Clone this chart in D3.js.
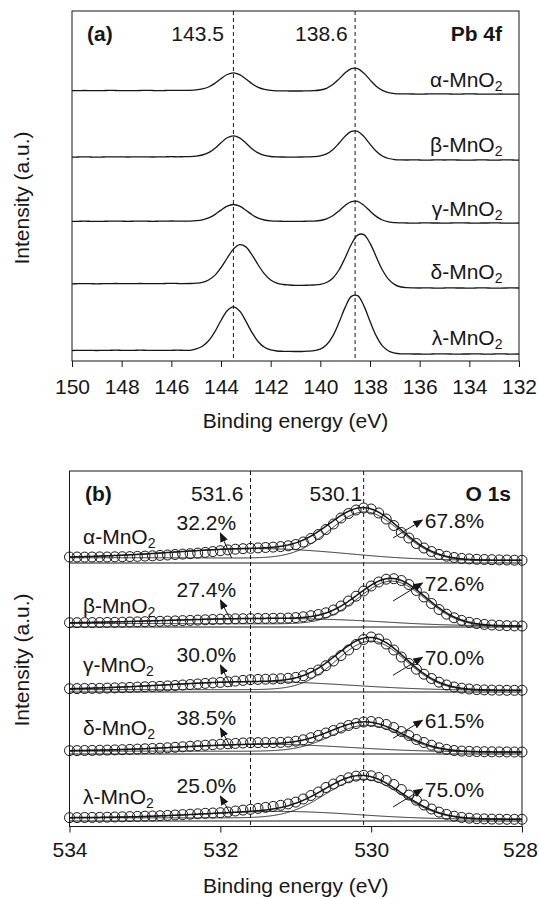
<!DOCTYPE html>
<html>
<head>
<meta charset="utf-8">
<script src="https://cdn.jsdelivr.net/npm/d3@7"></script>
<style>
  body { margin: 0; background: #fff; }
  svg { display: block; }
  text { font-family: "Liberation Sans", Arial, sans-serif; fill: #161616; }
</style>
</head>
<body>
<svg id="chart" width="539" height="899"></svg>
<script>
// ---------------- Pb 4f spectra (panel a) ----------------
// intensities on a 0.25 eV grid from 150 eV down to 132 eV
const pbSamples = ["α", "β", "γ", "δ", "λ"];
const pbAlpha = [3.3,3.4,3.5,3.4,3.3,3.4,3.6,3.5,3.4,3.3,3.4,3.5,3.6,3.5,3.4,3.5,3.6,3.7,3.6,3.7,
  4.1,5.1,7.0,10.6,15.3,19.5,21.2,19.4,15.1,10.3,6.7,4.6,3.6,3.2,
  3.1,3.0,3.0,3.0,3.1,3.3,4.0,5.7,9.4,14.9,21.2,25.4,25.4,20.9,14.1,7.8,3.6,1.3,0.4,0.1,
  0.1,0,-0.1,0,0.1,0.2,0.1,0,-0.1,0,0.1,0,-0.1,-0.2,-0.1,0,-0.1,-0.2,-0.1];
const pbBeta = [2.9,3.0,3.1,3.0,2.9,3.0,3.1,3.2,3.1,3.0,3.1,3.2,3.1,3.0,3.1,3.2,3.3,3.2,3.3,3.4,
  3.9,5.0,7.4,11.6,17.2,22.2,24.2,22.1,17.0,11.3,7.1,4.6,3.5,3.1,
  3.0,2.9,2.9,3.0,3.1,3.3,4.1,6.1,10.3,16.7,23.7,28.6,28.7,23.6,15.9,8.8,4.0,1.5,0.4,0.1,
  0,0.1,0,-0.1,0,0.1,0,0.1,0,-0.1,-0.1,0,0.1,0,-0.1,0,0.1,0,-0.1];
const pbGamma = [1.6,1.7,1.8,1.7,1.6,1.7,1.8,1.9,1.8,1.7,1.8,1.9,1.8,1.7,1.8,1.9,2.0,1.9,1.8,1.9,
  2.3,3.2,5.1,8.4,12.9,16.9,18.5,16.9,12.8,8.3,4.9,3.0,2.1,1.8,
  1.7,1.6,1.6,1.7,1.8,1.9,2.5,4.1,7.3,12.1,17.6,21.4,21.6,17.8,12.0,6.6,3.0,1.05,0.3,0.1,
  0,-0.1,0,0.1,0,0,-0.1,0,0.1,0.1,0,-0.1,0,0,0.1,0,-0.1,-0.1,0];
const pbDelta = [4.2,4.3,4.4,4.3,4.2,4.3,4.4,4.5,4.4,4.3,4.4,4.5,4.4,4.3,4.4,4.5,4.6,4.5,
  4.4,4.5,4.8,5.6,8.0,12.6,20.3,30.0,38.9,43.3,41.1,33.1,23.0,14.1,8.0,4.8,3.5,3.0,2.7,2.6,
  2.75,3.0,3.6,5.5,9.8,18.0,30.2,43.7,52.9,53.4,44.8,31.2,18.0,8.6,3.4,1.0,0.3,0.1,
  0,0.1,0,-0.1,0,0.1,0,0,-0.1,0,0.1,0,-0.1,-0.1,0,0.1,0];
const pbLambda = [3.5,3.6,3.7,3.6,3.5,3.6,3.7,3.8,3.7,3.6,3.7,3.8,3.7,3.6,3.7,3.6,3.7,3.8,3.7,3.6,
  5.1,7.7,13.2,22.2,33.5,43.3,47.1,43.0,32.9,21.4,12.3,6.7,4.1,3.0,
  2.7,2.6,2.5,2.5,2.8,3.3,4.9,9.2,17.9,31.4,46.6,57.6,58.4,48.4,32.7,18.1,8.1,3.0,0.9,0.2,
  0.1,0,0,-0.1,0,0.1,0.1,0,-0.1,0,0,0.1,0,-0.1,0,0.1,0,-0.1,0];
const pbSeries = [pbAlpha, pbBeta, pbGamma, pbDelta, pbLambda];
const pbOffsets = [260, 194, 131, 66, 0];
const pbTicks = [150, 148, 146, 144, 142, 140, 138, 136, 134, 132];
const pbRefLines = [143.5, 138.6];
const pbEnergies = d3.range(pbAlpha.length).map(i => 150 - 0.25 * i);

// ---------------- O 1s spectra (panel b) ----------------
// measured points on a 0.1 eV grid from 534 eV down to 528 eV
const oSamples = ["α", "β", "γ", "δ", "λ"];
const oAlpha = [6.0,6.0,5.9,6.0,6.1,6.0,6.2,6.3,6.4,6.6,6.9,
  7.2,7.6,8.0,8.5,8.9,9.3,9.9,10.6,11.4,12.3,
  13.1,13.8,14.3,14.7,15.1,15.5,15.9,16.4,17.2,18.5,
  21.0,24.5,28.5,33.5,39.0,45.0,49.5,53.0,55.0,54.0,
  50.0,44.0,37.5,30.5,25.0,19.5,15.0,11.5,8.6,6.8,
  5.5,4.6,4.1,3.7,3.5,3.3,3.1,3.0,2.8,2.7];
const oBeta = [4.3,4.3,4.4,4.4,4.5,4.6,4.7,4.8,5.0,5.1,5.3,
  5.5,5.7,5.9,6.1,6.4,6.6,6.9,7.2,7.5,7.8,
  8.0,8.2,8.3,8.4,8.5,8.6,8.7,8.8,9.0,9.4,
  10.2,11.3,12.5,14.2,17.0,21.0,26.0,30.8,36.0,41.0,
  45.0,47.8,48.3,46.5,42.5,36.5,30.0,23.5,17.5,12.8,
  9.2,6.6,4.7,3.5,2.6,2.0,1.6,1.3,1.1,1.0];
const oGamma = [3.3,3.4,3.5,3.6,3.7,3.9,4.1,4.3,4.6,4.9,5.2,
  5.5,5.7,6.1,6.5,7.0,7.5,8.0,8.6,9.1,9.6,
  10.2,10.9,11.6,12.3,12.6,12.8,13.0,13.3,13.7,14.6,
  16.3,18.8,22.0,26.3,31.0,36.5,42.0,47.5,52.5,55.0,
  53.0,48.0,42.0,35.0,28.5,22.8,17.8,13.5,9.8,7.0,
  5.0,3.8,3.0,2.4,2.1,1.9,1.8,1.7,1.7,1.7];
const oDelta = [3.3,3.4,3.5,3.6,3.8,3.9,4.1,4.3,4.6,4.9,5.2,
  5.5,5.8,6.2,6.7,7.2,7.8,8.3,8.8,9.3,9.8,
  10.2,10.6,11.0,11.3,11.4,11.4,11.4,11.6,12.0,12.8,
  14.2,16.3,18.6,21.0,23.5,26.0,28.5,30.5,32.0,32.5,
  31.5,29.5,26.5,22.5,18.5,14.5,11.5,8.8,6.2,4.6,
  3.5,2.9,2.6,2.4,2.3,2.2,2.1,2.1,2.0,2.0];
const oLambda = [3.3,3.4,3.5,3.6,3.7,3.8,4.0,4.2,4.4,4.6,4.8,
  5.0,5.3,5.6,6.0,6.4,6.8,7.2,7.7,8.0,8.3,
  9.0,10.0,10.9,11.7,12.6,13.6,14.6,15.7,17.1,18.9,
  22.0,25.5,29.0,33.5,37.0,40.5,43.2,44.9,45.7,45.2,
  43.5,40.5,36.5,31.5,26.0,20.8,16.0,12.0,8.9,6.6,
  4.8,3.6,2.8,2.3,2.1,1.9,1.8,1.7,1.7,1.7];
const oSeries = [oAlpha, oBeta, oGamma, oDelta, oLambda];
const oEnergies = d3.range(oAlpha.length).map(i => +(534 - 0.1 * i).toFixed(1));

// fitted components: lattice oxygen (main) and surface oxygen (high binding energy)
const oPctHigh = [32.2, 27.4, 30.0, 38.5, 25.0];
const oPctMain = [67.8, 72.6, 70.0, 61.5, 75.0];
const oMainCenter = [530.08, 529.72, 530.0, 530.05, 530.1];
const oMainHeight = [47.5, 44, 49, 26.5, 39.5];
const oMainFwhm = [1.1, 1.05, 1.08, 1.1, 1.2];
const oHighCenter = [531.5, 531.3, 531.5, 531.4, 531.2];
const oHighFwhm = [2.6, 3.2, 2.8, 2.6, 2.4];
const oBgHighSide = [5.3, 3.5, 2.4, 2.9, 3.2];
const oBgLowSide = [2.6, 0.7, 1.55, 1.9, 1.7];
const oOffsets = [258, 194, 129, 67, 0];
const oTicks = [534, 532, 530, 528];
const oRefLines = [531.6, 530.1];

// label placement above each stacked trace (px)
const pbNameLift = [7, 8, 7, 9, 9];
const oNameLift = [19, 14.5, 20, 19, 17.5];
const oLeftPctLift = [33, 30, 30, 29, 28];
const oRightPctLift = [35, 36, 26.7, 25.7, 24];

// ---------------- drawing ----------------
const ink = "#161616";
const svg = d3.select("#chart");

svg.append("defs").append("marker")
  .attr("id", "arrow").attr("markerUnits", "userSpaceOnUse")
  .attr("markerWidth", 10).attr("markerHeight", 10)
  .attr("viewBox", "0 0 10 8").attr("refX", 9).attr("refY", 4)
  .attr("orient", "auto")
  .append("path").attr("d", "M0,0 L10,4 L0,8 Z").attr("fill", ink);

function sampleLabel(g, x, y, greek, anchor) {
  const t = g.append("text").attr("x", x).attr("y", y)
    .attr("text-anchor", anchor).style("font-size", "21px");
  t.append("tspan").text(greek + "-MnO");
  t.append("tspan").attr("dy", 4).style("font-size", "14px").text("2");
}

function yTitle(x, y) {
  svg.append("text").attr("transform", `translate(${x},${y}) rotate(-90)`)
    .attr("text-anchor", "middle").style("font-size", "21px").text("Intensity (a.u.)");
}

// ----- panel (a) -----
const A = { left: 72, right: 519, top: 11, bottom: 361 };
const xA = d3.scaleLinear().domain([150, 132]).range([A.left, A.right]);
const yA = d3.scaleLinear().domain([-7, 343]).range([A.bottom, A.top]);
const gA = svg.append("g");

pbRefLines.forEach(e => {
  gA.append("line").attr("x1", xA(e)).attr("x2", xA(e))
    .attr("y1", A.top).attr("y2", A.bottom)
    .attr("stroke", ink).attr("stroke-width", 1).attr("stroke-dasharray", "4,3");
});

const lineA = d3.line().x(d => xA(d[0])).y(d => yA(d[1])).curve(d3.curveCatmullRom.alpha(0.5));
pbSeries.forEach((vals, k) => {
  const pts = vals.map((v, i) => [pbEnergies[i], v + pbOffsets[k]]);
  gA.append("path").attr("d", lineA(pts)).attr("fill", "none")
    .attr("stroke", ink).attr("stroke-width", 1.3);
  sampleLabel(gA, 502.5, yA(pbOffsets[k] + pbNameLift[k]), pbSamples[k], "end");
});

gA.append("rect").attr("x", A.left).attr("y", A.top)
  .attr("width", A.right - A.left).attr("height", A.bottom - A.top)
  .attr("fill", "none").attr("stroke", ink).attr("stroke-width", 1);

const axA = gA.append("g").attr("transform", `translate(0,${A.bottom})`)
  .call(d3.axisBottom(xA).tickValues(pbTicks).tickFormat(d3.format("d"))
    .tickSize(6).tickSizeOuter(0).tickPadding(12));
axA.select(".domain").remove();
axA.selectAll("line").attr("stroke", ink);
axA.selectAll("text").style("font-size", "21px").attr("fill", ink)
  .style("font-family", '"Liberation Sans", Arial, sans-serif');

gA.append("text").attr("x", 87).attr("y", 40.5).style("font-size", "21px")
  .style("font-weight", "bold").text("(a)");
gA.append("text").attr("x", 502).attr("y", 40.5).attr("text-anchor", "end")
  .style("font-size", "21px").style("font-weight", "bold").text("Pb 4f");
pbRefLines.forEach((e, i) => {
  gA.append("text").attr("x", xA(e) - (i === 0 ? 9.5 : 7.5)).attr("y", 40.5)
    .attr("text-anchor", "end").style("font-size", "21px").text(e.toFixed(1));
});
gA.append("text").attr("x", (A.left + A.right) / 2).attr("y", 428)
  .attr("text-anchor", "middle").style("font-size", "21px").text("Binding energy (eV)");
yTitle(28.5, 198);

// ----- panel (b) -----
const B = { left: 69.5, right: 522, top: 471, bottom: 826.5 };
const xB = d3.scaleLinear().domain([534, 528]).range([B.left, B.right]);
const yB = d3.scaleLinear().domain([-6, 350]).range([827, B.top]);
const gB = svg.append("g");

oRefLines.forEach(e => {
  gB.append("line").attr("x1", xB(e)).attr("x2", xB(e))
    .attr("y1", B.top).attr("y2", B.bottom)
    .attr("stroke", ink).attr("stroke-width", 1).attr("stroke-dasharray", "4,3");
});

const gauss = (E, c, h, F) => h * Math.exp(-4 * Math.LN2 * ((E - c) / F) ** 2);
const fitE = d3.range(0, 601).map(i => 534 - 0.01 * i);
const lineB = d3.line().x(d => xB(d[0])).y(d => yB(d[1]));

oSeries.forEach((vals, k) => {
  const off = oOffsets[k];
  // zero line of this trace
  gB.append("line").attr("x1", B.left).attr("x2", B.right)
    .attr("y1", yB(off)).attr("y2", yB(off)).attr("stroke", ink).attr("stroke-width", 1);

  // component heights: the surface-oxygen area follows the stated percentages
  const hMain = oMainHeight[k];
  const hHigh = oPctHigh[k] / oPctMain[k] * hMain * oMainFwhm[k] / oHighFwhm[k];
  const comps = fitE.map(E => [
    gauss(E, oMainCenter[k], hMain, oMainFwhm[k]),
    gauss(E, oHighCenter[k], hHigh, oHighFwhm[k])
  ]);
  // Shirley-type background stepping from the low- to the high-energy side
  const cum = new Array(fitE.length);
  let s = 0;
  for (let i = fitE.length - 1; i >= 0; i--) { s += comps[i][0] + comps[i][1]; cum[i] = s; }
  const bg = cum.map(c => oBgLowSide[k] + (oBgHighSide[k] - oBgLowSide[k]) * c / s);

  const mainCurve = fitE.map((E, i) => [E, off + bg[i] + comps[i][0]]);
  const highCurve = fitE.map((E, i) => [E, off + bg[i] + comps[i][1]]);
  const envelope = fitE.map((E, i) => [E, off + bg[i] + comps[i][0] + comps[i][1]]);
  gB.append("path").attr("d", lineB(mainCurve)).attr("fill", "none").attr("stroke", ink).attr("stroke-width", 0.9);
  gB.append("path").attr("d", lineB(highCurve)).attr("fill", "none").attr("stroke", ink).attr("stroke-width", 0.9);
  gB.append("path").attr("d", lineB(envelope)).attr("fill", "none").attr("stroke", ink).attr("stroke-width", 1.5);

  gB.selectAll(null).data(vals).enter().append("circle")
    .attr("cx", (v, i) => xB(oEnergies[i])).attr("cy", v => yB(off + v))
    .attr("r", 5).attr("fill", "none").attr("stroke", ink).attr("stroke-width", 1);

  sampleLabel(gB, 83, yB(off + oNameLift[k]), oSamples[k], "start");

  // surface oxygen share
  gB.append("text").attr("x", xB(531.79)).attr("y", yB(off + oLeftPctLift[k]))
    .attr("text-anchor", "end").style("font-size", "21px").text(oPctHigh[k].toFixed(1) + "%");
  gB.append("line").attr("x1", xB(531.85)).attr("y1", yB(off + 5))
    .attr("x2", xB(532.0)).attr("y2", yB(off + oLeftPctLift[k] - 3))
    .attr("stroke", ink).attr("stroke-width", 1).attr("marker-end", "url(#arrow)");

  // lattice oxygen share
  const tip = oRightPctLift[k] + 8;
  gB.append("text").attr("x", xB(529.29)).attr("y", yB(off + oRightPctLift[k]))
    .style("font-size", "21px").text(oPctMain[k].toFixed(1) + "%");
  gB.append("line").attr("x1", xB(529.71)).attr("y1", yB(off + tip - 18))
    .attr("x2", xB(529.32)).attr("y2", yB(off + tip))
    .attr("stroke", ink).attr("stroke-width", 1).attr("marker-end", "url(#arrow)");
});

gB.append("rect").attr("x", B.left).attr("y", B.top)
  .attr("width", B.right - B.left).attr("height", B.bottom - B.top)
  .attr("fill", "none").attr("stroke", ink).attr("stroke-width", 1);

const axB = gB.append("g").attr("transform", `translate(0,${B.bottom})`)
  .call(d3.axisBottom(xB).tickValues(oTicks).tickFormat(d3.format("d"))
    .tickSize(6).tickSizeOuter(0).tickPadding(9.5));
axB.select(".domain").remove();
axB.selectAll("line").attr("stroke", ink);
axB.selectAll("text").style("font-size", "21px").attr("fill", ink)
  .style("font-family", '"Liberation Sans", Arial, sans-serif');
// keep the last label inside the page edge
axB.selectAll(".tick").filter(d => d === 528).select("text").attr("dx", -2);

gB.append("text").attr("x", 85).attr("y", 501).style("font-size", "21px")
  .style("font-weight", "bold").text("(b)");
gB.append("text").attr("x", 511).attr("y", 501).attr("text-anchor", "end")
  .style("font-size", "21px").style("font-weight", "bold").text("O 1s");
oRefLines.forEach((e, i) => {
  gB.append("text").attr("x", xB(e) - (i === 0 ? 7 : 1.5)).attr("y", 501)
    .attr("text-anchor", "end").style("font-size", "21px").text(e.toFixed(1));
});
gB.append("text").attr("x", (B.left + B.right) / 2).attr("y", 893)
  .attr("text-anchor", "middle").style("font-size", "21px").text("Binding energy (eV)");
yTitle(28.5, 660);
</script>
</body>
</html>
